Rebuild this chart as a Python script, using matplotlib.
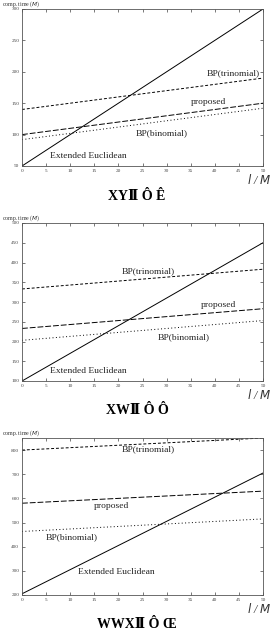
import matplotlib
matplotlib.use("Agg")
import matplotlib.pyplot as plt

plt.rcParams['font.family'] = ['Liberation Serif', 'DejaVu Serif']

# x range (l / M) shared by all panels
X_ENDS = [0, 50]

# panel 1
EE_1 = [50, 300]
TRI_1 = [140, 190]
PROP_1 = [100, 150]
BIN_1 = [92, 142]

# panel 2
EE_2 = [100, 450]
TRI_2 = [333, 383]
PROP_2 = [233, 283]
BIN_2 = [203, 253]

# panel 3
EE_3 = [205, 705]
TRI_3 = [800, 850]
PROP_3 = [580, 630]
BIN_3 = [463, 515]

YLIMS = [(50, 300), (100, 500), (200, 850)]
YSTEPS = [50, 50, 100]
CAPTIONS = ["XY\u2161 Ô Ê", "XW\u2161 Ô Ô", "WWX\u2161 Ô Œ"]

# label positions (data coords): trinomial, proposed, binomial, extended euclidean
LABELS = [
    [(43.8, 198), (38.6, 152), (29.0, 102), (13.7, 66)],
    [(26.2, 379), (40.7, 293), (33.5, 212), (13.7, 125)],
    [(26.2, 802), (18.6, 569), (10.3, 439), (19.5, 297)],
]

SERIES = [
    (EE_1, TRI_1, PROP_1, BIN_1),
    (EE_2, TRI_2, PROP_2, BIN_2),
    (EE_3, TRI_3, PROP_3, BIN_3),
]

fig = plt.figure(figsize=(2.73, 6.3), dpi=100)
W, H = 273, 630
# axes boxes in pixels: left, top, right, bottom
BOXES = [(22, 9, 263, 166), (22, 223, 263, 381), (22, 438, 263, 595)]

for i, (ee, tri, prop, bn) in enumerate(SERIES):
    l, t, r, b = BOXES[i]
    ax = fig.add_axes([l / W, 1 - b / H, (r - l) / W, (b - t) / H])
    ax.plot(X_ENDS, ee, color='black', lw=0.7)
    ax.plot(X_ENDS, tri, color='black', lw=0.7, ls=(0, (3, 2)))
    ax.plot(X_ENDS, prop, color='black', lw=0.7, ls=(0, (6, 2)))
    ax.plot(X_ENDS, bn, color='black', lw=0.7, ls=(0, (1, 2.5)))
    ax.set_xlim(0, 50)
    ax.set_ylim(*YLIMS[i])
    ax.set_xticks(range(0, 51, 5))
    lo, hi = YLIMS[i]
    ax.set_yticks(range(lo, hi + 1 if i < 2 else 801, YSTEPS[i]))
    ax.tick_params(direction='in', length=2, width=0.5, labelsize=3.8,
                   top=True, right=True, pad=2, colors='#444444')
    for s in ax.spines.values():
        s.set_linewidth(0.6)
        s.set_color('#555555')
    names = ["BP(trinomial)", "proposed", "BP(binomial)", "Extended Euclidean"]
    for (lx, ly), name in zip(LABELS[i], names):
        ax.text(lx, ly, name, ha='center', va='center', fontsize=6.8, color='#222222')
    # axis titles
    fig.text(2 / W, 1 - (t - 5) / H, "comp. time ($M$)", fontsize=4.2, va='center', ha='left',
             color='#333333')
    fig.text(271 / W, 1 - (b + 14) / H, "$l$ / $M$", fontsize=8.5, ha='right', va='center',
             color='#333333', style='italic')
    fig.text(137 / W, 1 - (b + 30) / H, CAPTIONS[i], fontsize=10, ha='center', va='center',
             fontweight='bold')

fig.savefig("out.png", dpi=100)
